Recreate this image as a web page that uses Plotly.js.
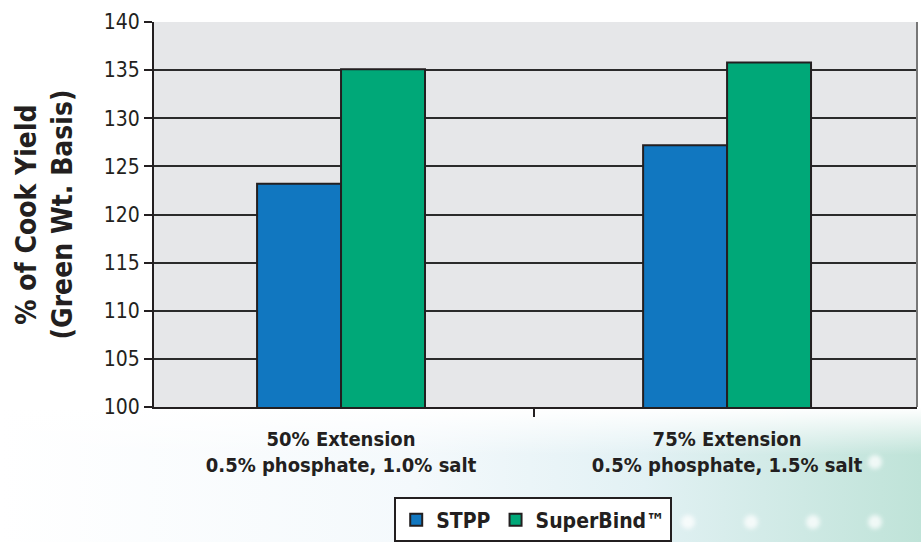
<!DOCTYPE html>
<html>
<head>
<meta charset="utf-8">
<script src="https://cdn.plot.ly/plotly-3.0.1.min.js"></script>
<style>html,body{margin:0;padding:0;background:#fff;}#chart{width:921px;height:542px;}</style>
</head>
<body>
<div id="chart"></div>
<script>
const categories = ["50% Extension<br>0.5% phosphate, 1.0% salt", "75% Extension<br>0.5% phosphate, 1.5% salt"];
const seriesNames = ["STPP", "SuperBind™"];
const stppValues = [123.2, 127.2];
const superbindValues = [135.1, 135.8];
const yTickValues = [100, 105, 110, 115, 120, 125, 130, 135, 140];

const FONT = "'DejaVu Sans Condensed', 'Liberation Sans Narrow', 'Arial Narrow', sans-serif";

const bgSvg = `<svg xmlns='http://www.w3.org/2000/svg' width='921' height='542' viewBox='0 0 921 542'>
<defs>
<linearGradient id='g' x1='0' y1='0' x2='1' y2='0'>
<stop offset='0' stop-color='#ffffff'/>
<stop offset='0.45' stop-color='#f4f9fc'/>
<stop offset='0.7' stop-color='#e2f1f4'/>
<stop offset='1' stop-color='#bfe3d8'/>
</linearGradient>
<linearGradient id='v' x1='0' y1='0' x2='0' y2='1'>
<stop offset='0' stop-color='#ffffff' stop-opacity='1'/>
<stop offset='0.35' stop-color='#ffffff' stop-opacity='0'/>
</linearGradient>
<filter id='b'><feGaussianBlur stdDeviation='2'/></filter>
</defs>
<rect x='0' y='408' width='921' height='134' fill='url(#g)'/>
<rect x='0' y='408' width='921' height='134' fill='url(#v)'/>
<g fill='#ffffff' opacity='0.75' filter='url(#b)'>
<circle cx='688' cy='522' r='7'/><circle cx='751' cy='522' r='7'/>
<circle cx='813' cy='522' r='7'/><circle cx='875' cy='522' r='7'/>
<circle cx='875' cy='462' r='7'/>
</g>
</svg>`;

const traces = [
  {type: "bar", name: seriesNames[0], x: categories, y: stppValues,
   marker: {color: "#1177c0", line: {color: "#231f20", width: 2}}},
  {type: "bar", name: seriesNames[1], x: categories, y: superbindValues,
   marker: {color: "#00a878", line: {color: "#231f20", width: 2}}}
];

const layout = {
  width: 921, height: 542,
  margin: {l: 154, r: 4, t: 22, b: 135, pad: 0, autoexpand: false},
  paper_bgcolor: "rgba(0,0,0,0)",
  plot_bgcolor: "#e6e7e9",
  font: {family: FONT, color: "#231f20"},
  barmode: "group",
  bargap: 0.565,
  bargroupgap: 0,
  showlegend: true,
  legend: {
    orientation: "h", x: 0.497, xanchor: "center", y: -0.235, yanchor: "top",
    bgcolor: "#ffffff", bordercolor: "#231f20", borderwidth: 2,
    font: {family: FONT, size: 21, weight: "bold", color: "#231f20"},
    traceorder: "normal"
  },
  xaxis: {
    type: "category",
    automargin: false,
    range: [-0.4845, 1.492],
    showline: true, linecolor: "#231f20", linewidth: 2,
    ticks: "outside", tickson: "boundaries", ticklen: 8, tickcolor: "#231f20", tickwidth: 2,
    tickfont: {family: FONT, size: 20, weight: "bold", color: "#231f20"},
    ticklabelstandoff: 13,
    showgrid: false, zeroline: false
  },
  yaxis: {
    automargin: false,
    range: [100, 140],
    tickvals: yTickValues,
    showline: true, linecolor: "#231f20", linewidth: 2,
    ticks: "outside", ticklen: 8, tickcolor: "#231f20", tickwidth: 2,
    tickfont: {family: FONT, size: 21, color: "#231f20"},
    ticklabelstandoff: 0,
    showgrid: true, gridcolor: "#2b2b2b", gridwidth: 2,
    zeroline: false,
    title: {text: "% of Cook Yield<br>(Green Wt. Basis)", font: {family: FONT, size: 28, weight: "bold", color: "#231f20"}, standoff: 23}
  },
  shapes: [
    {type: "line", xref: "paper", yref: "paper", x0: 1, x1: 1, y0: 0, y1: 1, line: {color: "#777", width: 2}}
  ],
  images: [
    {source: "data:image/svg+xml;charset=utf-8," + encodeURIComponent(bgSvg),
     xref: "paper", yref: "paper", x: -154/763, y: 1 + 22/385, sizex: 921/763, sizey: 542/385,
     xanchor: "left", yanchor: "top", sizing: "stretch", layer: "below"}
  ]
};

Plotly.newPlot("chart", traces, layout, {displayModeBar: false, staticPlot: true});
</script>
</body>
</html>
